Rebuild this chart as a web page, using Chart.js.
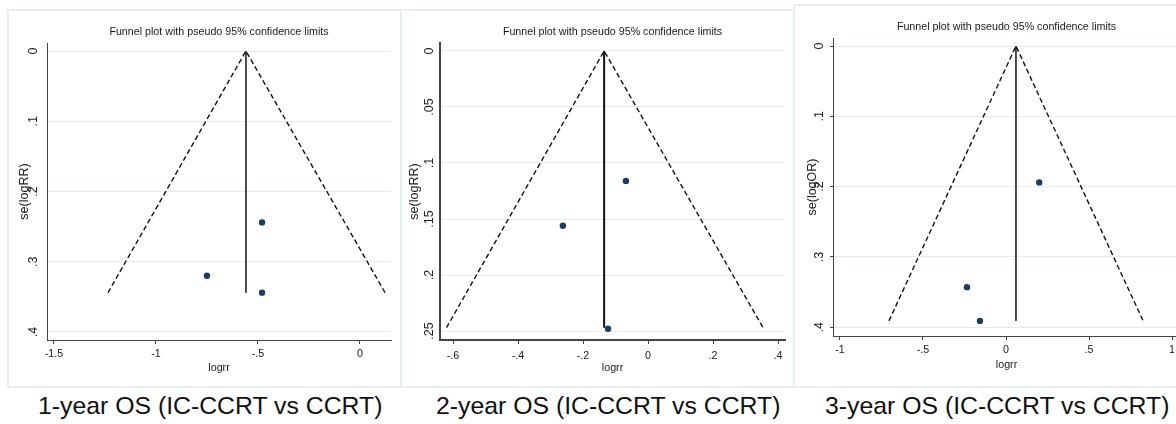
<!DOCTYPE html>
<html>
<head>
<meta charset="utf-8">
<script src="https://cdn.jsdelivr.net/npm/chart.js@4.4.1/dist/chart.umd.min.js"></script>
<style>
  html, body { margin: 0; padding: 0; background: #fff; width: 1176px; height: 424px; overflow: hidden; position: relative; }
  .frame { position: absolute; border: 2px solid #e6eeee; border-right: none; box-sizing: border-box; }
  canvas { position: absolute; }
  .caption { position: absolute; top: 394px; font: 24.8px 'Liberation Sans', Arial, sans-serif; line-height: 1; color: #111; white-space: nowrap; }
</style>
</head>
<body>
<div class="frame" style="left:7px;top:9px;width:394px;height:379px"></div>
<div class="frame" style="left:400px;top:9px;width:394px;height:379px"></div>
<div class="frame" style="left:793px;top:4px;width:400px;height:384px"></div>

<canvas id="os1"></canvas>
<canvas id="os2"></canvas>
<canvas id="os3"></canvas>

<div class="caption" style="left:38px">1-year OS (IC-CCRT vs CCRT)</div>
<div class="caption" style="left:436px">2-year OS (IC-CCRT vs CCRT)</div>
<div class="caption" style="left:825px">3-year OS (IC-CCRT vs CCRT)</div>

<script>
const TITLE = 'Funnel plot with pseudo 95% confidence limits';
const X_TITLE = 'logrr';

// 1-year OS
const os1LogRR = [-0.48, -0.75, -0.48];
const os1SE = [0.244, 0.320, 0.344];
const os1FunnelX = [-1.235, -0.559, 0.123];
const os1FunnelSE = [0.344, 0, 0.344];
const os1PooledX = [-0.559, -0.559];
const os1PooledSE = [0, 0.344];
const os1XRange = [-1.534, 0.152];
const os1YRange = [-0.0114, 0.4114];
const os1XTicks = [-1.5, -1, -0.5, 0];
const os1XLabels = ['-1.5', '-1', '-.5', '0'];
const os1YTicks = [0, 0.1, 0.2, 0.3, 0.4];
const os1YLabels = ['0', '.1', '.2', '.3', '.4'];

// 2-year OS
const os2LogRR = [-0.068, -0.262, -0.123];
const os2SE = [0.116, 0.156, 0.248];
const os2FunnelX = [-0.62, -0.135, 0.354];
const os2FunnelSE = [0.247, 0, 0.247];
const os2PooledX = [-0.135, -0.135];
const os2PooledSE = [0, 0.247];
const os2XRange = [-0.64, 0.4215];
const os2YRange = [-0.0071, 0.258];
const os2XTicks = [-0.6, -0.4, -0.2, 0, 0.2, 0.4];
const os2XLabels = ['-.6', '-.4', '-.2', '0', '.2', '.4'];
const os2YTicks = [0, 0.05, 0.1, 0.15, 0.2, 0.25];
const os2YLabels = ['0', '.05', '.1', '.15', '.2', '.25'];

// 3-year OS
const os3LogRR = [0.20, -0.235, -0.157];
const os3SE = [0.194, 0.343, 0.391];
const os3FunnelX = [-0.705, 0.06, 0.826];
const os3FunnelSE = [0.391, 0, 0.391];
const os3PooledX = [0.06, 0.06];
const os3PooledSE = [0, 0.391];
const os3XRange = [-1.042, 1.048];
const os3YRange = [-0.0114, 0.4125];
const os3XTicks = [-1, -0.5, 0, 0.5, 1];
const os3XLabels = ['-1', '-.5', '0', '.5', '1'];
const os3YTicks = [0, 0.1, 0.2, 0.3, 0.4];
const os3YLabels = ['0', '.1', '.2', '.3', '.4'];

// the source graph is squeezed sideways, so flat text is set smaller than the rotated text
const SANS = "'Liberation Sans', Arial, sans-serif";
const FLAT = 10.7;
const UPRIGHT = 12.5;
const TEXT = '#1a1a1a';

const toPoints = (xs, ys) => xs.map((x, i) => ({ x, y: ys[i] }));

function makePanel(id, p) {
  const canvas = document.getElementById(id);
  const wy = 40, hx = 40;
  // page coordinates of the plot area: [left, right, top, bottom]
  const [aL, aR, aT, aB] = p.area;
  const left = aL - wy;
  const top = p.titleY - 10;
  canvas.style.left = left + 'px';
  canvas.style.top = top + 'px';
  canvas.width = aR + wy - left;
  canvas.height = aB + hx - top;

  const lh = FLAT * 1.2;
  const titlePadTop = p.titleY - top - lh / 2;
  const titlePadBottom = aT - top - lh - titlePadTop;

  new Chart(canvas, {
    type: 'scatter',
    data: {
      datasets: [
        {
          data: toPoints(p.funnelX, p.funnelSE),
          showLine: true,
          borderColor: '#111',
          borderWidth: 1.4,
          borderDash: [5, 3],
          pointRadius: 0,
        },
        {
          data: toPoints(p.pooledX, p.pooledSE),
          showLine: true,
          borderColor: p.bold ? '#111' : '#333',
          borderWidth: p.bold ? 2 : 1,
          pointRadius: 0,
        },
        {
          data: toPoints(p.logRR, p.se),
          pointRadius: 3.2,
          backgroundColor: '#1d3c62',
          borderWidth: 0,
        },
      ],
    },
    options: {
      responsive: false,
      animation: false,
      plugins: {
        legend: { display: false },
        tooltip: { enabled: false },
        title: {
          display: true,
          text: TITLE,
          color: TEXT,
          font: { family: SANS, size: FLAT, weight: 'normal', lineHeight: 1.2 },
          padding: { top: titlePadTop, bottom: titlePadBottom },
        },
      },
      scales: {
        x: {
          type: 'linear',
          min: p.xRange[0],
          max: p.xRange[1],
          afterFit: s => { s.height = hx; },
          afterBuildTicks: s => { s.ticks = p.xTicks.map(v => ({ value: v })); },
          grid: { drawOnChartArea: false, drawTicks: true, tickLength: 4, color: '#444' },
          border: { display: true, color: '#444', width: p.bold ? 2 : 1 },
          ticks: {
            padding: p.xTickPad,
            color: TEXT,
            maxRotation: 0,
            autoSkip: false,
            font: { family: SANS, size: FLAT },
            callback: (v, i) => p.xLabels[i],
          },
          title: {
            display: true,
            text: X_TITLE,
            color: TEXT,
            font: { family: SANS, size: FLAT, lineHeight: 1.2 },
            padding: { top: 0, bottom: p.xTitlePad },
          },
        },
        y: {
          type: 'linear',
          reverse: true,
          min: p.yRange[0],
          max: p.yRange[1],
          afterFit: s => { s.width = wy; },
          afterBuildTicks: s => { s.ticks = p.yTicks.map(v => ({ value: v })); },
          grid: { color: '#e4ecee', drawTicks: p.yTickMarks, tickLength: 3, tickColor: '#444' },
          border: { display: true, color: '#444', width: p.bold ? 2 : 1 },
          ticks: {
            minRotation: 90,
            maxRotation: 90,
            crossAlign: 'center',
            padding: p.yTickPad,
            color: TEXT,
            autoSkip: false,
            font: { family: SANS, size: UPRIGHT },
            callback: (v, i) => p.yLabels[i],
          },
          title: {
            display: true,
            text: p.yTitle,
            color: TEXT,
            font: { family: SANS, size: UPRIGHT, lineHeight: 1.2 },
            padding: { top: p.yTitlePad, bottom: 0 },
          },
        },
        // empty right-hand axis, only so the title centres over the plot
        spacer: {
          type: 'linear',
          position: 'right',
          afterFit: s => { s.width = wy; },
          grid: { display: false },
          border: { display: false },
          ticks: { display: false },
        },
      },
    },
  });
}

makePanel('os1', {
  area: [47, 391, 43, 340], titleY: 32,
  logRR: os1LogRR, se: os1SE, funnelX: os1FunnelX, funnelSE: os1FunnelSE,
  pooledX: os1PooledX, pooledSE: os1PooledSE,
  xRange: os1XRange, yRange: os1YRange,
  xTicks: os1XTicks, xLabels: os1XLabels, yTicks: os1YTicks, yLabels: os1YLabels,
  yTitle: 'se(logRR)', xTickPad: 3.6, xTitlePad: 5.6, yTickPad: 7.8, yTitlePad: 10.5,
  yTickMarks: false, bold: false,
});

makePanel('os2', {
  area: [440, 785, 43, 340], titleY: 32,
  logRR: os2LogRR, se: os2SE, funnelX: os2FunnelX, funnelSE: os2FunnelSE,
  pooledX: os2PooledX, pooledSE: os2PooledSE,
  xRange: os2XRange, yRange: os2YRange,
  xTicks: os2XTicks, xLabels: os2XLabels, yTicks: os2YTicks, yLabels: os2YLabels,
  yTitle: 'se(logRR)', xTickPad: 5.6, xTitlePad: 5.6, yTickPad: 1.3, yTitlePad: 7.5,
  yTickMarks: false, bold: true,
});

makePanel('os3', {
  area: [833, 1180, 38, 336], titleY: 27,
  logRR: os3LogRR, se: os3SE, funnelX: os3FunnelX, funnelSE: os3FunnelSE,
  pooledX: os3PooledX, pooledSE: os3PooledSE,
  xRange: os3XRange, yRange: os3YRange,
  xTicks: os3XTicks, xLabels: os3XLabels, yTicks: os3YTicks, yLabels: os3YLabels,
  yTitle: 'se(logOR)', xTickPad: 3.6, xTitlePad: 4.6, yTickPad: 4.8, yTitlePad: 12.5,
  yTickMarks: true, bold: false,
});
</script>
</body>
</html>
